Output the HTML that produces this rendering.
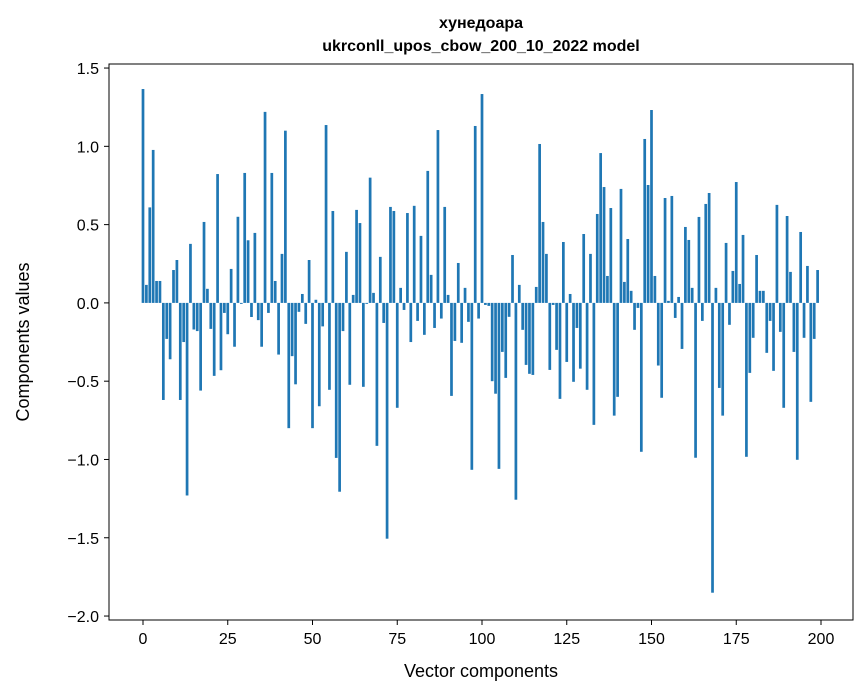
<!DOCTYPE html>
<html><head><meta charset="utf-8"><style>
html,body{margin:0;padding:0;background:#fff;}
svg{display:block;font-family:"Liberation Sans","DejaVu Sans",sans-serif;}
</style></head><body>
<svg id="chart" width="867" height="696" viewBox="0 0 867 696">
<rect x="0" y="0" width="867" height="696" fill="#fff"/>
<text x="481" y="28" text-anchor="middle" font-size="16" font-weight="bold">хунедоара</text>
<text x="481" y="51" text-anchor="middle" font-size="16" font-weight="bold">ukrconll_upos_cbow_200_10_2022 model</text>
<g id="bars"></g>
<rect x="109" y="64" width="744" height="556" fill="none" stroke="#000" stroke-width="1"/>
<g id="xticks"></g>
<g id="yticks"></g>
<text x="481" y="677" text-anchor="middle" font-size="18">Vector components</text>
<text transform="translate(29,342) rotate(-90)" text-anchor="middle" font-size="18">Components values</text>
</svg>
<script>
const values = [1.366,0.115,0.61,0.977,0.14,0.14,-0.62,-0.23,-0.36,0.21,0.274,-0.62,-0.25,-1.23,0.377,-0.17,-0.18,-0.56,0.517,0.09,-0.166,-0.466,0.823,-0.43,-0.064,-0.2,0.217,-0.28,0.55,-0.006,0.83,0.40,-0.09,0.447,-0.11,-0.28,1.22,-0.064,0.83,0.14,-0.33,0.313,1.10,-0.80,-0.34,-0.52,-0.057,0.057,-0.134,0.274,-0.80,0.02,-0.66,-0.15,1.136,-0.555,0.587,-0.99,-1.206,-0.18,0.326,-0.523,0.051,0.594,0.51,-0.536,-0.006,0.80,0.064,-0.913,0.294,-0.128,-1.506,0.613,0.587,-0.67,0.096,-0.045,0.574,-0.25,0.62,-0.115,0.428,-0.204,0.843,0.179,-0.16,1.104,-0.10,0.613,0.051,-0.594,-0.243,0.255,-0.255,0.096,-0.121,-1.066,1.13,-0.10,1.334,-0.013,-0.019,-0.50,-0.58,-1.06,-0.313,-0.479,-0.089,0.306,-1.257,0.115,-0.172,-0.396,-0.453,-0.46,0.102,1.015,0.517,0.313,-0.428,-0.013,-0.30,-0.613,0.389,-0.377,0.057,-0.504,-0.16,-0.42,0.44,-0.555,0.313,-0.779,0.568,0.957,0.74,0.172,0.606,-0.72,-0.60,0.728,0.134,0.408,0.077,-0.172,-0.032,-0.951,1.047,0.753,1.232,0.172,-0.40,-0.606,0.67,0.013,0.683,-0.096,0.038,-0.294,0.485,0.402,0.096,-0.989,0.549,-0.115,0.632,0.702,-1.851,0.096,-0.543,-0.72,0.383,-0.14,0.204,0.772,0.121,0.434,-0.983,-0.447,-0.223,0.306,0.077,0.077,-0.319,-0.115,-0.434,0.626,-0.185,-0.67,0.555,0.198,-0.313,-1.002,0.453,-0.223,0.236,-0.632,-0.23,0.21];
const xTickValues = [0,25,50,75,100,125,150,175,200];
const yTickValues = [1.5,1.0,0.5,0.0,-0.5,-1.0,-1.5,-2.0];
const NS = 'http://www.w3.org/2000/svg';
function xScale(v){ return 143 + v * 3.39; }
function yScale(v){ return 302.9 - v * 156.57; }
const bars = document.getElementById('bars');
values.forEach((v, i) => {
  const r = document.createElementNS(NS, 'rect');
  const y0 = yScale(0), y1 = yScale(v);
  r.setAttribute('x', xScale(i - 0.4));
  r.setAttribute('width', 3.39 * 0.8);
  r.setAttribute('y', Math.min(y0, y1));
  r.setAttribute('height', Math.abs(y1 - y0));
  r.setAttribute('fill', '#1f77b4');
  
  
  bars.appendChild(r);
});
const xt = document.getElementById('xticks');
xTickValues.forEach(v => {
  const x = xScale(v);
  const l = document.createElementNS(NS, 'line');
  l.setAttribute('x1', x); l.setAttribute('x2', x);
  l.setAttribute('y1', 620); l.setAttribute('y2', 625);
  l.setAttribute('stroke', '#000');
  
  
  xt.appendChild(l);
  const t = document.createElementNS(NS, 'text');
  t.setAttribute('x', x); t.setAttribute('y', 644);
  t.setAttribute('text-anchor', 'middle'); t.setAttribute('font-size', '16');
  t.textContent = v;
  
  
  xt.appendChild(t);
});
const yt = document.getElementById('yticks');
yTickValues.forEach(v => {
  const y = yScale(v);
  const l = document.createElementNS(NS, 'line');
  l.setAttribute('x1', 104); l.setAttribute('x2', 109);
  l.setAttribute('y1', y); l.setAttribute('y2', y);
  l.setAttribute('stroke', '#000');
  
  
  yt.appendChild(l);
  const t = document.createElementNS(NS, 'text');
  t.setAttribute('x', 99); t.setAttribute('y', y + 6);
  t.setAttribute('text-anchor', 'end'); t.setAttribute('font-size', '16');
  t.textContent = (v < 0 ? '\u2212' : '') + Math.abs(v).toFixed(1);
  
  
  yt.appendChild(t);
});
</script>
</body></html>
